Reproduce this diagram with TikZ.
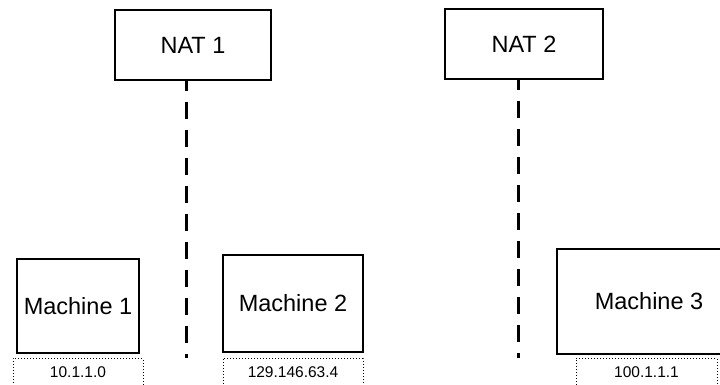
\documentclass[tikz,border=0pt]{standalone}
\usepackage{fontspec}
\setmainfont{Liberation Sans}
\begin{document}
\begin{tikzpicture}[x=1pt,y=-1pt,
  box/.style={draw,line width=2pt,inner sep=0pt,font=\fontsize{23.5}{28}\selectfont},
  addr/.style={draw,dash pattern=on 0.9pt off 2.1pt,line width=0.9pt,inner sep=0pt,anchor=north,minimum height=28,font=\fontsize{15.5}{18}\selectfont},
  link/.style={line width=3pt,dash pattern=on 17pt off 11pt,dash phase=7pt}]
\useasboundingbox (0,0) rectangle (720,385);
\clip (0,0) rectangle (720,385);
% routers
\node[box,minimum width=156,minimum height=70] (nat1) at (193,45) {NAT 1};
\node[box,minimum width=158,minimum height=70] (nat2) at (524,44) {NAT 2};
% hosts
\node[box,minimum width=122,minimum height=94] (m1) at (78,306) {Machine 1};
\node[box,minimum width=140,minimum height=97] (m2) at (293,303.5) {Machine 2};
\node[box,minimum width=184,minimum height=105] (m3) at (649,301.5) {Machine 3};
% addresses
\node[addr,minimum width=130] (ip1) at (78,358) {10.1.1.0};
\node[addr,minimum width=140] (ip2) at (293,358) {129.146.63.4};
\node[addr,minimum width=141] (ip3) at (646.5,358) {100.1.1.1};
% networks
\coordinate (lan1) at (186,358);
\coordinate (lan2) at (518,358);
\draw[link] (nat1.south -| lan1) -- (lan1);
\draw[link] (nat2.south -| lan2) -- (lan2);
\end{tikzpicture}
\end{document}
